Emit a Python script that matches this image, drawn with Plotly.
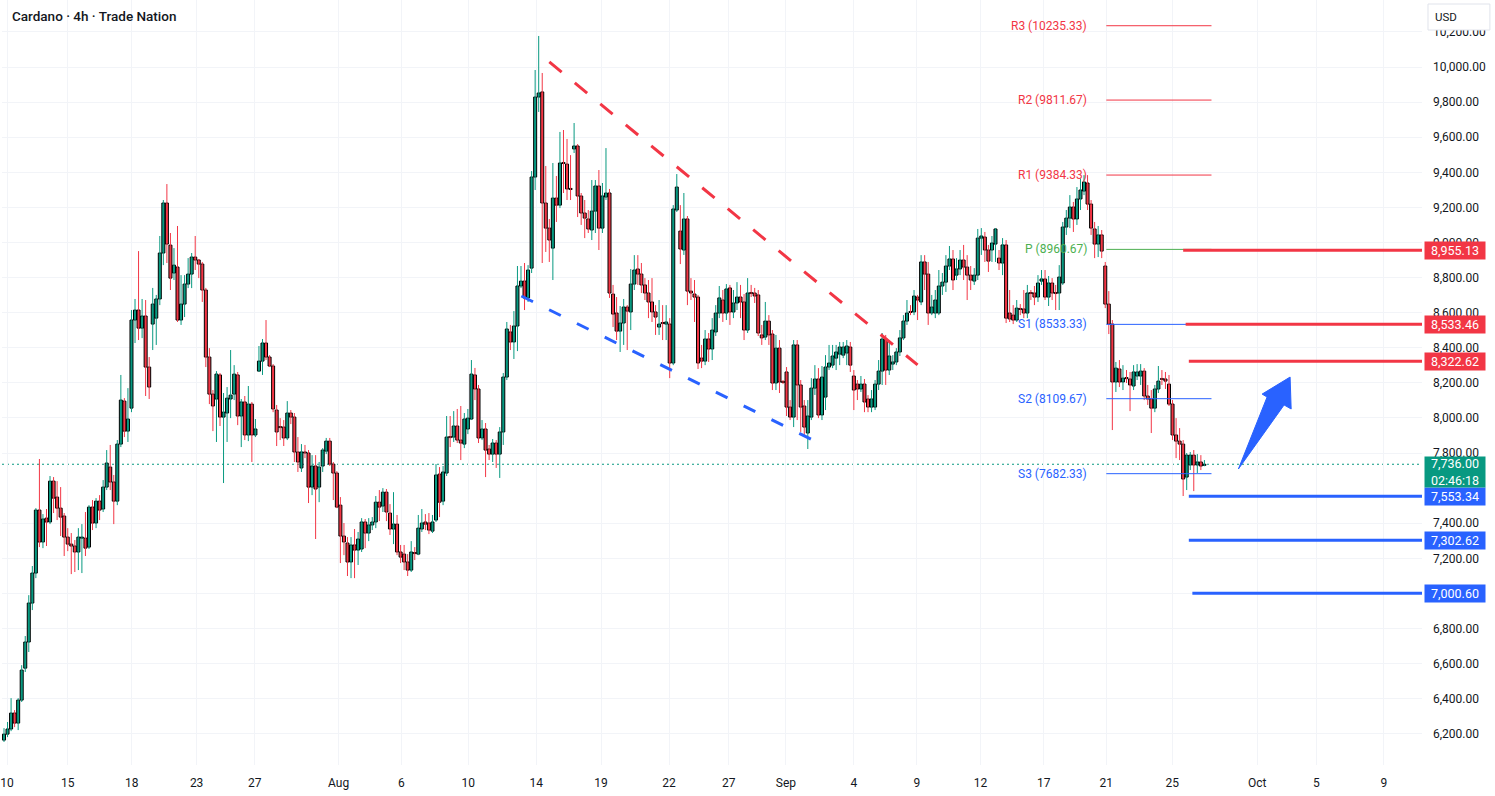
import plotly.graph_objects as go

# ---------------- data (4h candles) ----------------
open_ = [
6164,6198,6227,6318,6261,6392,6574,6723,6945,7116,
7475,7293,7429,7407,7640,7549,7486,7441,7321,7281,
7270,7236,7315,7315,7264,7492,7401,7526,7481,7606,
7720,7635,7526,7851,8096,7925,8056,8558,8615,8512,
8581,8290,8535,8569,8678,8940,9225,8985,8826,8860,
8558,8649,8763,8820,8917,8900,8877,8729,8347,8136,
8108,8245,8005,8028,8108,8136,8245,8011,8091,7903,
8079,7903,8267,8324,8427,8347,8296,8045,7948,7948,
7886,8028,8005,7806,7715,7806,7800,7606,7726,7606,
7726,7811,7868,7737,7686,7503,7327,7287,7179,7276,
7247,7253,7407,7344,7390,7407,7520,7498,7577,7458,
7367,7395,7236,7224,7179,7133,7230,7224,7367,7407,
7401,7355,7418,7680,7526,7686,7891,7891,7954,7874,
7851,7937,7994,8245,8165,7886,7937,7823,7794,7857,
7794,7920,8233,8490,8433,8524,8752,8780,8684,8854,
9373,9829,9858,9225,9082,8968,9253,9213,9453,9447,
9305,9533,9550,9265,9168,9134,9071,9179,9322,9082,
9259,9282,8706,8598,8495,8541,8632,8604,8763,8849,
8820,8758,8712,8661,8604,8518,8541,8535,8535,8313,
9185,9065,8957,9134,8723,8706,8689,8341,8324,8450,
8393,8490,8598,8672,8598,8741,8604,8655,8689,8661,
8501,8712,8712,8701,8473,8461,8552,8478,8199,8398,
8205,8262,8062,8005,8416,8188,8068,7914,8005,8170,
8222,8017,8119,8290,8301,8341,8364,8358,8370,8404,
8239,8193,8165,8193,8108,8062,8062,8193,8267,8450,
8273,8307,8319,8376,8456,8552,8604,8604,8689,8661,
8889,8820,8598,8598,8598,8752,8774,8866,8906,8814,
8849,8900,8860,8814,8780,8814,9025,9031,8957,8957,
8991,8911,8883,8986,8598,8586,8558,8621,8621,8598,
8712,8712,8689,8780,8792,8689,8769,8712,8712,8769,
9088,9139,9202,9134,9248,9293,9339,9219,9077,8991,
9043,8866,8649,8535,8205,8279,8205,8227,8222,8182,
8239,8239,8267,8125,8108,8056,8165,8222,8222,8193,
8079,7903,7868,7851,7663,7732,7788,7732,7749,7730,
]
high = [
6232,6267,6403,6335,6403,6591,6757,6990,7156,7486,
7766,7452,7481,7669,7663,7640,7606,7458,7372,7344,
7304,7372,7395,7464,7503,7532,7543,7560,7646,7817,
7846,7675,7874,8245,8113,8170,8615,8678,8951,8678,
8672,8347,8741,8701,9037,9242,9333,9054,8968,9094,
8814,8814,8911,8940,9037,8906,8889,8741,8398,8159,
8267,8256,8142,8176,8387,8301,8262,8108,8125,8182,
8091,7994,8410,8450,8558,8358,8307,8074,7999,7988,
8096,8045,8028,7891,7851,7846,7817,7788,7788,7749,
7828,7886,7886,7749,7697,7549,7401,7321,7321,7367,
7350,7429,7424,7429,7435,7555,7589,7600,7595,7509,
7577,7447,7276,7276,7224,7298,7264,7447,7481,7452,
7458,7447,7737,7720,7726,8011,8011,8039,8051,8068,
8028,8051,8330,8285,8188,7988,7971,7846,7880,7874,
7948,8256,8547,8530,8609,8866,8866,8883,8871,9407,
9983,10177,9966,9436,9134,9453,9379,9630,9641,9590,
9498,9681,9561,9282,9242,9185,9356,9356,9413,9339,
9538,9305,8758,8689,8638,8678,8643,8849,8928,8928,
8883,8797,8786,8797,8643,8672,8643,8643,8569,9213,
9390,9213,9282,9151,8797,8786,8701,8416,8501,8484,
8569,8643,8752,8729,8763,8758,8729,8774,8758,8706,
8797,8758,8741,8729,8530,8661,8586,8501,8473,8444,
8216,8290,8102,8444,8444,8216,8102,8102,8227,8301,
8284,8296,8358,8416,8416,8416,8433,8433,8444,8433,
8273,8216,8239,8222,8130,8159,8216,8330,8484,8473,
8444,8358,8398,8501,8586,8672,8643,8729,8701,8928,
8928,8889,8701,8729,8843,8826,8928,8980,8957,8911,
8957,8986,8928,8866,8854,9077,9082,9060,8986,9037,
9082,8957,9025,9014,8729,8643,8672,8649,8729,8758,
8729,8752,8814,8843,8843,8809,8797,8758,8871,9117,
9185,9270,9231,9316,9367,9384,9384,9242,9117,9094,
9071,8889,8723,8558,8319,8330,8301,8273,8262,8301,
8307,8307,8284,8188,8159,8188,8296,8273,8262,8245,
8102,7999,7942,7874,7800,7806,7817,7794,7788,7760,
]
low = [
6153,6181,6215,6238,6221,6381,6552,6666,6905,7087,
7264,7258,7270,7395,7458,7418,7327,7213,7241,7110,
7122,7133,7116,7213,7253,7361,7372,7418,7464,7589,
7589,7395,7503,7834,7891,7863,8033,8427,8444,8455,
8125,8108,8387,8416,8643,8871,8883,8729,8786,8547,
8530,8575,8740,8740,8843,8797,8661,8290,8079,7925,
7863,7954,7629,7863,7999,8102,7959,7834,7874,7868,
7749,7891,8262,8245,8330,8290,8033,7840,7874,7840,
7874,7965,7749,7692,7692,7771,7515,7560,7310,7520,
7692,7794,7726,7532,7486,7173,7218,7099,7087,7087,
7162,7236,7258,7298,7361,7372,7412,7464,7412,7333,
7281,7218,7173,7133,7099,7122,7190,7218,7350,7361,
7338,7344,7407,7435,7503,7669,7834,7863,7857,7760,
7828,7908,7988,8102,7857,7874,7663,7760,7749,7715,
7658,7846,8216,8387,8336,8381,8740,8615,8661,8826,
9299,9744,8883,8946,8889,8786,9117,9196,9282,9242,
9242,9510,9145,9100,9025,9054,9014,9054,8957,9054,
9242,8684,8518,8444,8376,8416,8387,8501,8729,8758,
8712,8672,8569,8547,8473,8473,8444,8444,8227,8301,
9174,8877,8929,8643,8672,8547,8279,8284,8301,8319,
8330,8467,8569,8547,8558,8530,8569,8615,8569,8444,
8484,8689,8655,8467,8416,8444,8416,8159,8159,8142,
8193,8011,7988,7948,7988,7920,7903,7823,7988,8131,
7999,7988,8045,8273,8284,8273,8301,8341,8301,8262,
8045,8102,8148,8033,8033,8033,8045,8159,8188,8188,
8245,8273,8301,8353,8444,8530,8586,8586,8558,8643,
8729,8530,8586,8569,8586,8701,8718,8843,8729,8786,
8814,8786,8672,8729,8758,8786,8929,8889,8832,8889,
8889,8843,8814,8541,8547,8535,8547,8586,8569,8569,
8672,8643,8661,8758,8672,8638,8672,8615,8615,8758,
9043,9082,9060,9100,9185,9270,9185,9043,8911,8917,
8911,8626,8478,7931,8148,8176,8159,8199,8039,8159,
8216,8188,8102,8074,7914,8033,8142,8188,8165,8068,
7874,7771,7760,7555,7589,7703,7583,7686,7703,7725,
]
close = [
6198,6227,6318,6261,6392,6563,6723,6945,7116,7475,
7293,7424,7407,7640,7543,7486,7435,7321,7281,7270,
7236,7321,7318,7258,7492,7401,7526,7475,7606,7743,
7635,7526,7851,8102,7925,7994,8558,8615,8512,8581,
8290,8176,8649,8678,8940,9225,8991,8797,8871,8558,
8649,8763,8820,8917,8900,8877,8729,8347,8136,8068,
8250,8005,8033,8113,8130,8250,8011,8091,7903,8079,
7903,7937,8324,8427,8347,8296,8051,7920,7945,7886,
8028,8005,7806,7749,7806,7800,7606,7726,7595,7720,
7817,7868,7737,7686,7492,7327,7293,7179,7276,7247,
7310,7407,7344,7390,7407,7520,7492,7577,7464,7367,
7395,7236,7207,7179,7133,7236,7227,7372,7401,7395,
7361,7407,7675,7520,7692,7891,7888,7954,7874,7857,
7994,7999,8250,8165,7886,7937,7817,7794,7857,7794,
7920,8233,8507,8433,8524,8752,8780,8684,8843,9373,
9829,9852,9225,9082,9014,9253,9213,9453,9450,9305,
9302,9550,9265,9168,9139,9077,9179,9322,9082,9265,
9282,8712,8592,8495,8541,8632,8609,8763,8843,8820,
8758,8712,8661,8604,8575,8535,8538,8547,8313,9191,
9316,8963,9134,8723,8712,8689,8313,8324,8450,8393,
8501,8598,8684,8598,8735,8604,8655,8689,8661,8501,
8712,8709,8695,8484,8456,8552,8473,8199,8398,8205,
8202,8062,8005,8416,8188,8062,7948,8011,8170,8222,
8017,8233,8290,8313,8353,8376,8404,8404,8410,8301,
8159,8165,8193,8091,8062,8108,8193,8267,8450,8273,
8353,8319,8376,8456,8552,8598,8601,8695,8672,8889,
8820,8598,8632,8672,8752,8774,8866,8906,8786,8849,
8900,8860,8814,8786,8814,9025,9037,8957,8894,8997,
9077,8883,8986,8569,8564,8558,8626,8618,8598,8712,
8709,8689,8769,8792,8689,8769,8712,8709,8803,9088,
9139,9202,9134,9248,9299,9345,9219,9082,8991,9043,
8951,8649,8535,8205,8284,8205,8227,8224,8188,8262,
8262,8267,8125,8108,8056,8165,8210,8219,8210,8079,
7903,7868,7851,7652,7788,7788,7732,7749,7726,7736,
]

tick_pos = [0.85, 18.0, 36.1, 54.4, 70.8, 94.5, 112.2, 131.1, 150.3, 168.6, 187.8,
            204.7, 220.8, 240.0, 257.8, 275.8, 293.6, 311.3, 329.9, 353.9, 370.6, 389.7]
tick_text = ["10", "15", "18", "23", "27", "Aug", "6", "10", "14", "19", "22",
             "27", "Sep", "4", "9", "12", "17", "21", "25", "Oct", "5", "9"]

# price-axis ticks (7,600.00 is fully covered by the price tags in the reference)
price_ticks = [6200, 6400, 6600, 6800, 7000, 7200, 7400, 7800, 8000, 8200,
               8400, 8600, 8800, 9000, 9200, 9400, 9600, 9800, 10000, 10200]

pivot_names = ["R3", "R2", "R1", "P", "S1", "S2", "S3"]
pivot_values = [10235.33, 9811.67, 9384.33, 8960.67, 8533.33, 8109.67, 7682.33]
pivot_colors = ["#F23645", "#F23645", "#F23645", "#4CAF50", "#2962FF", "#2962FF", "#2962FF"]

level_values = [8955.13, 8533.46, 8322.62, 7553.34, 7302.62, 7000.60]
level_colors = ["#F23645", "#F23645", "#F23645", "#2962FF", "#2962FF", "#2962FF"]
level_start = [333.0, 333.7, 334.6, 334.6, 334.6, 335.6]

last_price = 7736.00
countdown = "02:46:18"

# ---------------- layout constants ----------------
W, H = 1495, 796
ML, MR, MT, MB = 0, 73, 0, 31
PW, PH = W - ML - MR, H - MT - MB
X0, X1 = -0.564, 400.45
Y0, Y1 = 6022, 10382
GREEN, RED, BLUE = "#089981", "#F23645", "#2962FF"
FONT = "Roboto"

n = len(close)
idx = list(range(n))

fig = go.Figure()

# wicks
for up in (True, False):
    xs, ys = [], []
    for i in idx:
        if (close[i] >= open_[i]) == up:
            xs += [i, i, None]
            ys += [low[i], high[i], None]
    fig.add_trace(go.Scatter(x=xs, y=ys, mode="lines",
                             line=dict(color=GREEN if up else RED, width=1),
                             hoverinfo="skip", showlegend=False))

# bodies
base = [min(o, c) for o, c in zip(open_, close)]
size = [max(abs(c - o), 6) for o, c in zip(open_, close)]
cols = [GREEN if c >= o else RED for o, c in zip(open_, close)]
fig.add_trace(go.Bar(x=idx, y=size, base=base, width=0.85,
                     marker=dict(color=cols, line=dict(color="#000000", width=1)),
                     hoverinfo="skip", showlegend=False))

shapes = []
annotations = []

# last-price dotted line
shapes.append(dict(type="line", xref="x", yref="y", x0=X0, x1=X1, y0=last_price, y1=last_price,
                   line=dict(color=GREEN, width=1, dash="2px,3px"), layer="below"))

# wedge trend lines
shapes.append(dict(type="line", xref="x", yref="y", x0=154.0, y0=10029, x1=258.0, y1=8302,
                   line=dict(color=RED, width=3, dash="16px,17px")))
shapes.append(dict(type="line", xref="x", yref="y", x0=146.1, y0=8695, x1=232.4, y1=7834,
                   line=dict(color=BLUE, width=3, dash="13px,18px")))

# pivot lines + labels
for nm, v, c in zip(pivot_names, pivot_values, pivot_colors):
    shapes.append(dict(type="line", xref="x", yref="y", x0=311.3, x1=341.0, y0=v, y1=v,
                       line=dict(color=c, width=1)))
    annotations.append(dict(x=306.3, y=v, xref="x", yref="y", text=f"{nm} ({v:.2f})",
                            showarrow=False, xanchor="right", yanchor="middle",
                            font=dict(family=FONT, size=12, color=c)))

# thick level lines + axis labels
for v, c, s in zip(level_values, level_colors, level_start):
    shapes.append(dict(type="line", xref="x", yref="y", x0=s, x1=X1, y0=v, y1=v,
                       line=dict(color=c, width=3)))
    annotations.append(dict(x=1424 / PW, y=v, xref="paper", yref="y", text=f"{v:,.2f}",
                            showarrow=False, xanchor="left", yanchor="middle",
                            width=60, height=17, borderpad=0, bgcolor=c, align="center",
                            font=dict(family=FONT, size=12.5, color="#FFFFFF")))

# current price label
annotations.append(dict(x=1424 / PW, y=last_price, xref="paper", yref="y",
                        text=f"{last_price:,.2f}<br>{countdown}",
                        showarrow=False, xanchor="left", yanchor="top", yshift=8,
                        width=60, height=30, borderpad=0, bgcolor=GREEN, align="center",
                        font=dict(family=FONT, size=12.5, color="#FFFFFF")))

# blue arrow
shapes.append(dict(type="path", xref="x", yref="y",
                   path="M 348.6,7709 L 356.7,8119 L 355.3,8136 L 363.2,8233 L 363.5,8051 L 361.5,8074 Z",
                   fillcolor=BLUE, line=dict(color=BLUE, width=1)))

# USD box
shapes.append(dict(type="rect", xref="paper", yref="paper",
                   x0=1428 / PW, x1=1490 / PW, y0=1 - 30 / PH, y1=1 - 4 / PH,
                   fillcolor="#FFFFFF", line=dict(color="#E0E3EB", width=1), layer="above"))
annotations.append(dict(x=1446 / PW, y=1 - 17 / PH, xref="paper", yref="paper", text="USD",
                        showarrow=False, xanchor="center", yanchor="middle",
                        font=dict(family=FONT, size=11.5, color="#131722")))

# title
annotations.append(dict(x=8 / PW, y=1 - 16 / PH, xref="paper", yref="paper",
                        text="Cardano · 4h · Trade Nation", showarrow=False,
                        xanchor="left", yanchor="middle",
                        font=dict(family=FONT, size=13.5, color="#131722", weight=500)))

fig.update_layout(
    width=W, height=H, autosize=False,
    margin=dict(l=ML, r=MR, t=MT, b=MB, pad=0),
    plot_bgcolor="#FFFFFF", paper_bgcolor="#FFFFFF",
    barmode="overlay", showlegend=False, hovermode=False,
    shapes=shapes, annotations=annotations,
    xaxis=dict(range=[X0, X1], tickmode="array", tickvals=tick_pos, ticktext=tick_text,
               showgrid=True, gridcolor="#F2F4F8", zeroline=False, showline=False,
               ticks="", ticklabelstandoff=9, ticklabeloverflow="allow",
               tickfont=dict(family=FONT, size=12, color="#131722"), fixedrange=True),
    yaxis=dict(range=[Y0, Y1], side="right", tickmode="array", tickvals=price_ticks,
               tickformat=",.2f",
               showgrid=True, gridcolor="#F2F4F8", zeroline=False, showline=False,
               ticks="", ticklabelstandoff=10,
               tickfont=dict(family=FONT, size=12, color="#131722"), fixedrange=True),
)

fig.write_html("out.html")
